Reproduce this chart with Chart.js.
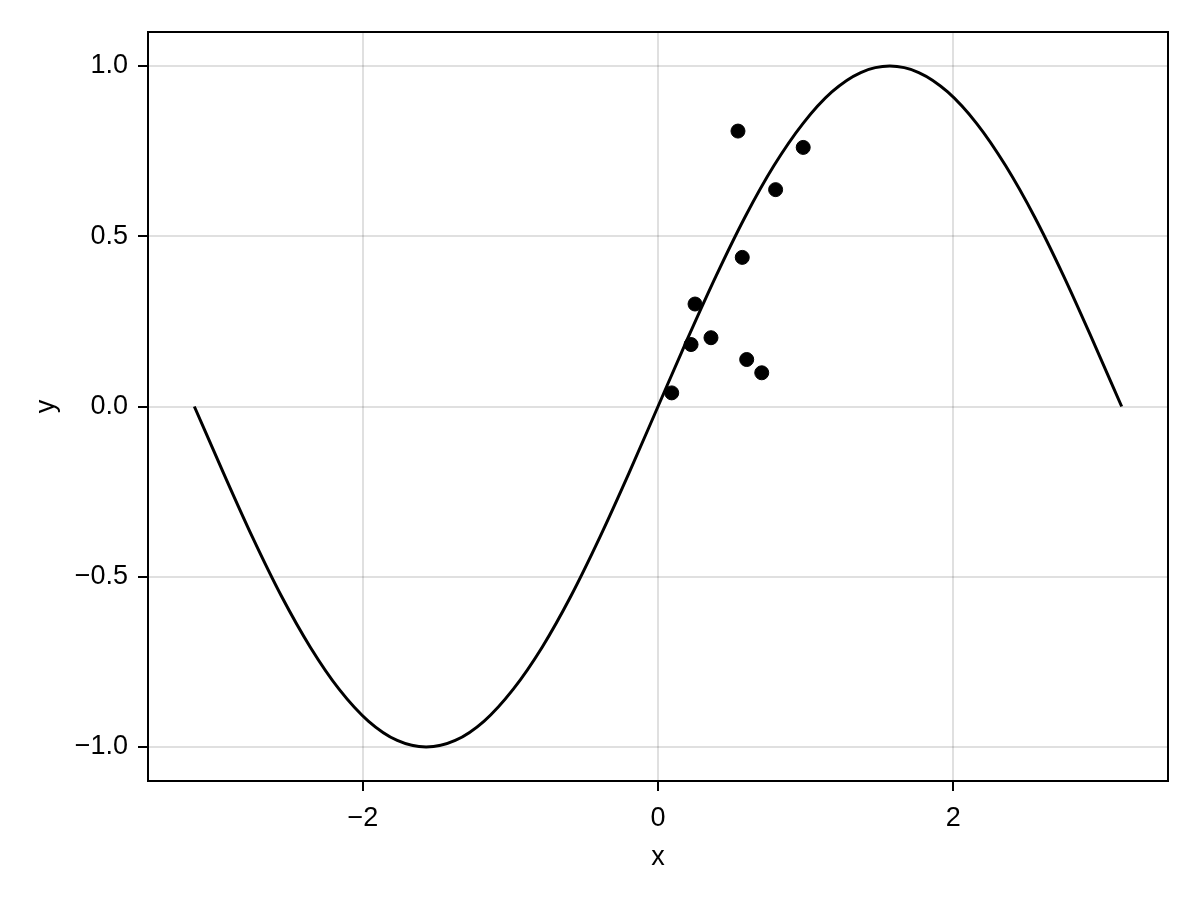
<!DOCTYPE html>
<html>
<head>
<meta charset="utf-8">
<script src="https://cdn.jsdelivr.net/npm/chart.js@4"></script>
<style>
  html, body { margin: 0; padding: 0; background: #fff; }
  #wrap { width: 1200px; height: 900px; }
</style>
</head>
<body>
<div id="wrap"><canvas id="c" width="1200" height="900"></canvas></div>
<script>
  // curve samples (x, y), every pi/16
  const curveX = [-3.142, -2.945, -2.749, -2.553, -2.356, -2.160, -1.963, -1.767, -1.571,
    -1.374, -1.178, -0.982, -0.785, -0.589, -0.393, -0.196, 0,
    0.196, 0.393, 0.589, 0.785, 0.982, 1.178, 1.374, 1.571,
    1.767, 1.963, 2.160, 2.356, 2.553, 2.749, 2.945, 3.142];
  const curveY = [0, -0.195, -0.383, -0.556, -0.707, -0.831, -0.924, -0.981, -1,
    -0.981, -0.924, -0.831, -0.707, -0.556, -0.383, -0.195, 0,
    0.195, 0.383, 0.556, 0.707, 0.831, 0.924, 0.981, 1,
    0.981, 0.924, 0.831, 0.707, 0.556, 0.383, 0.195, 0];

  // scatter points
  const dotX = [0.093, 0.224, 0.251, 0.359, 0.542, 0.571, 0.601, 0.703, 0.797, 0.984];
  const dotY = [0.040, 0.182, 0.301, 0.202, 0.809, 0.438, 0.138, 0.099, 0.637, 0.761];

  const xTicks = [-2, 0, 2];
  const yTicks = [-1.0, -0.5, 0.0, 0.5, 1.0];

  Chart.defaults.font.family = '"Liberation Sans", Arial, sans-serif';
  Chart.defaults.font.size = 27;
  Chart.defaults.color = '#000';

  const minus = s => s.replace('-', '\u2212');

  // frame on top and right like the reference
  const framePlugin = {
    id: 'frame',
    afterDatasetsDraw(chart) {
      const { ctx, chartArea: a } = chart;
      ctx.save();
      ctx.strokeStyle = '#000';
      ctx.lineWidth = 2;
      ctx.strokeRect(a.left, a.top, a.right - a.left, a.bottom - a.top);
      ctx.restore();
    }
  };

  new Chart(document.getElementById('c'), {
    type: 'scatter',
    data: {
      datasets: [
        {
          label: 'points',
          data: dotX.map((x, i) => ({ x, y: dotY[i] })),
          backgroundColor: '#000',
          borderColor: '#000',
          pointRadius: 7,
          pointHoverRadius: 7
        },
        {
          label: 'sin',
          data: curveX.map((x, i) => ({ x, y: curveY[i] })),
          showLine: true,
          borderColor: '#000',
          borderWidth: 3,
          pointRadius: 0,
          cubicInterpolationMode: 'monotone',
          fill: false
        }
      ]
    },
    options: {
      responsive: false,
      animation: false,
      devicePixelRatio: 1,
      layout: { padding: { top: 32, right: 32, left: 0, bottom: 0 } },
      plugins: { legend: { display: false }, tooltip: { enabled: false } },
      scales: {
        x: {
          type: 'linear',
          min: -3.456, max: 3.456,
          afterFit: s => { s.height = 119; },
          afterBuildTicks: s => { s.ticks = xTicks.map(v => ({ value: v })); },
          ticks: {
            color: '#000', font: { size: 27 }, padding: 11, maxRotation: 0,
            callback: v => minus(String(v))
          },
          grid: { color: 'rgba(0,0,0,0.12)', lineWidth: 2, tickColor: '#000', tickWidth: 2, tickLength: 10 },
          border: { color: '#000', width: 2 },
          title: { display: true, text: 'x', color: '#000', font: { size: 27 }, padding: { top: 0, bottom: 26 } }
        },
        y: {
          type: 'linear',
          min: -1.1, max: 1.1,
          afterFit: s => { s.width = 148; },
          afterBuildTicks: s => { s.ticks = yTicks.map(v => ({ value: v })); },
          ticks: {
            color: '#000', font: { size: 27 }, padding: 10,
            callback: v => minus(Number(v).toFixed(1))
          },
          grid: { color: 'rgba(0,0,0,0.12)', lineWidth: 2, tickColor: '#000', tickWidth: 2, tickLength: 10 },
          border: { color: '#000', width: 2 },
          title: { display: true, text: 'y', color: '#000', font: { size: 27 }, padding: { top: 30, bottom: 0 } }
        }
      }
    },
    plugins: [framePlugin]
  });
</script>
</body>
</html>
